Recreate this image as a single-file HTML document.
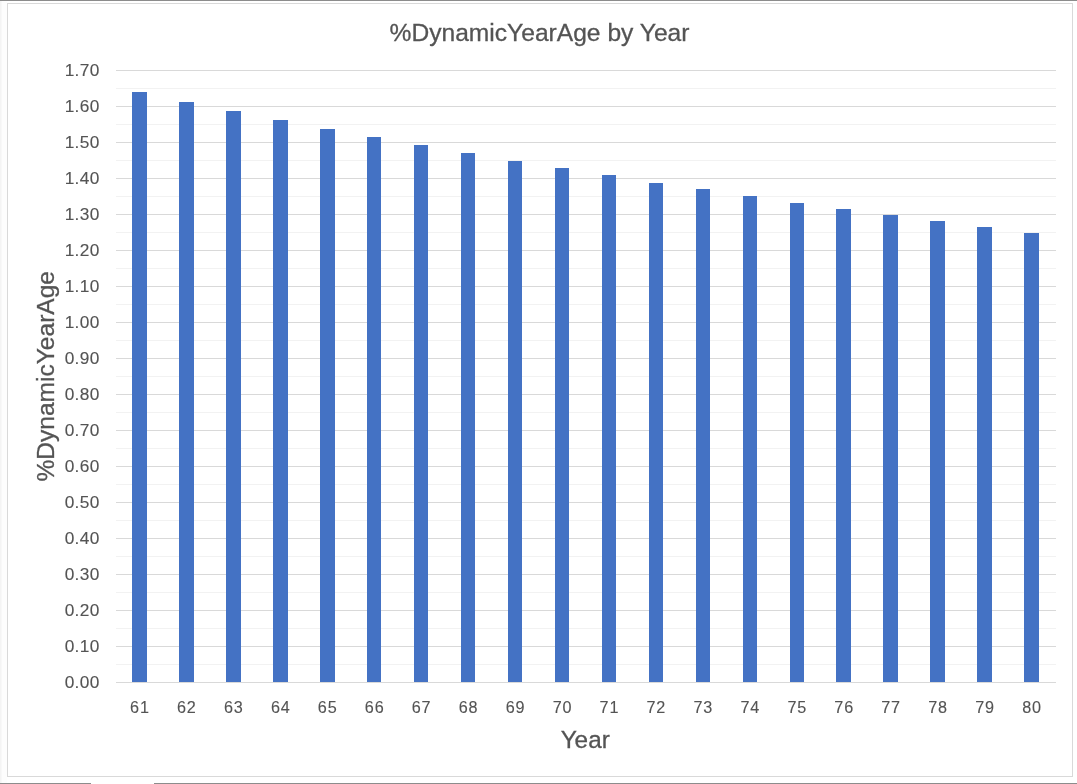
<!DOCTYPE html><html><head><meta charset="utf-8"><style>html,body{margin:0;padding:0;background:#fff;width:1077px;height:784px;overflow:hidden}svg{display:block;will-change:transform}text{font-family:"Liberation Sans",sans-serif;fill:#545454;stroke:#545454}</style></head><body>
<svg width="1077" height="784" viewBox="0 0 1077 784">
<rect x="0" y="0" width="1077" height="784" fill="#ffffff"/>
<rect x="0" y="0" width="1077" height="1" fill="#8c8c8c"/>
<rect x="0" y="783" width="91" height="1" fill="#8c8c8c"/>
<rect x="154" y="783" width="923" height="1" fill="#8c8c8c"/>
<rect x="0" y="1" width="7" height="782" fill="#fdfdfd"/><rect x="0" y="1" width="1" height="782" fill="#f4f4f4"/><rect x="1" y="1" width="1" height="782" fill="#f8f8f8"/>
<rect x="7.5" y="3.5" width="1065" height="773" fill="none" stroke="#d9d9d9" stroke-width="1"/>
<rect x="116" y="664" width="940" height="1" fill="#f2f2f2"/>
<rect x="116" y="628" width="940" height="1" fill="#f2f2f2"/>
<rect x="116" y="592" width="940" height="1" fill="#f2f2f2"/>
<rect x="116" y="556" width="940" height="1" fill="#f2f2f2"/>
<rect x="116" y="520" width="940" height="1" fill="#f2f2f2"/>
<rect x="116" y="484" width="940" height="1" fill="#f2f2f2"/>
<rect x="116" y="448" width="940" height="1" fill="#f2f2f2"/>
<rect x="116" y="412" width="940" height="1" fill="#f2f2f2"/>
<rect x="116" y="376" width="940" height="1" fill="#f2f2f2"/>
<rect x="116" y="340" width="940" height="1" fill="#f2f2f2"/>
<rect x="116" y="304" width="940" height="1" fill="#f2f2f2"/>
<rect x="116" y="268" width="940" height="1" fill="#f2f2f2"/>
<rect x="116" y="232" width="940" height="1" fill="#f2f2f2"/>
<rect x="116" y="196" width="940" height="1" fill="#f2f2f2"/>
<rect x="116" y="160" width="940" height="1" fill="#f2f2f2"/>
<rect x="116" y="124" width="940" height="1" fill="#f2f2f2"/>
<rect x="116" y="88" width="940" height="1" fill="#f2f2f2"/>
<rect x="116" y="682" width="940" height="1" fill="#d9d9d9"/>
<rect x="116" y="646" width="940" height="1" fill="#d9d9d9"/>
<rect x="116" y="610" width="940" height="1" fill="#d9d9d9"/>
<rect x="116" y="574" width="940" height="1" fill="#d9d9d9"/>
<rect x="116" y="538" width="940" height="1" fill="#d9d9d9"/>
<rect x="116" y="502" width="940" height="1" fill="#d9d9d9"/>
<rect x="116" y="466" width="940" height="1" fill="#d9d9d9"/>
<rect x="116" y="430" width="940" height="1" fill="#d9d9d9"/>
<rect x="116" y="394" width="940" height="1" fill="#d9d9d9"/>
<rect x="116" y="358" width="940" height="1" fill="#d9d9d9"/>
<rect x="116" y="322" width="940" height="1" fill="#d9d9d9"/>
<rect x="116" y="286" width="940" height="1" fill="#d9d9d9"/>
<rect x="116" y="250" width="940" height="1" fill="#d9d9d9"/>
<rect x="116" y="214" width="940" height="1" fill="#d9d9d9"/>
<rect x="116" y="178" width="940" height="1" fill="#d9d9d9"/>
<rect x="116" y="142" width="940" height="1" fill="#d9d9d9"/>
<rect x="116" y="106" width="940" height="1" fill="#d9d9d9"/>
<rect x="116" y="70" width="940" height="1" fill="#d9d9d9"/>
<rect x="132" y="92" width="15" height="590" fill="#4472c4"/>
<rect x="179" y="102" width="15" height="580" fill="#4472c4"/>
<rect x="226" y="111" width="15" height="571" fill="#4472c4"/>
<rect x="273" y="120" width="15" height="562" fill="#4472c4"/>
<rect x="320" y="129" width="15" height="553" fill="#4472c4"/>
<rect x="367" y="137" width="14" height="545" fill="#4472c4"/>
<rect x="414" y="145" width="14" height="537" fill="#4472c4"/>
<rect x="461" y="153" width="14" height="529" fill="#4472c4"/>
<rect x="508" y="161" width="14" height="521" fill="#4472c4"/>
<rect x="555" y="168" width="14" height="514" fill="#4472c4"/>
<rect x="602" y="175" width="14" height="507" fill="#4472c4"/>
<rect x="649" y="183" width="14" height="499" fill="#4472c4"/>
<rect x="696" y="189" width="14" height="493" fill="#4472c4"/>
<rect x="743" y="196" width="14" height="486" fill="#4472c4"/>
<rect x="790" y="203" width="14" height="479" fill="#4472c4"/>
<rect x="836" y="209" width="15" height="473" fill="#4472c4"/>
<rect x="883" y="215" width="15" height="467" fill="#4472c4"/>
<rect x="930" y="221" width="15" height="461" fill="#4472c4"/>
<rect x="977" y="227" width="15" height="455" fill="#4472c4"/>
<rect x="1024" y="233" width="15" height="449" fill="#4472c4"/>
<text transform="translate(99.6,688.03) scale(1.08,1)" font-size="16.0" stroke-width="0.12" letter-spacing="0.3" text-anchor="end">0.00</text>
<text transform="translate(99.6,652.03) scale(1.08,1)" font-size="16.0" stroke-width="0.12" letter-spacing="0.3" text-anchor="end">0.10</text>
<text transform="translate(99.6,616.03) scale(1.08,1)" font-size="16.0" stroke-width="0.12" letter-spacing="0.3" text-anchor="end">0.20</text>
<text transform="translate(99.6,580.03) scale(1.08,1)" font-size="16.0" stroke-width="0.12" letter-spacing="0.3" text-anchor="end">0.30</text>
<text transform="translate(99.6,544.03) scale(1.08,1)" font-size="16.0" stroke-width="0.12" letter-spacing="0.3" text-anchor="end">0.40</text>
<text transform="translate(99.6,508.03) scale(1.08,1)" font-size="16.0" stroke-width="0.12" letter-spacing="0.3" text-anchor="end">0.50</text>
<text transform="translate(99.6,472.03) scale(1.08,1)" font-size="16.0" stroke-width="0.12" letter-spacing="0.3" text-anchor="end">0.60</text>
<text transform="translate(99.6,436.03) scale(1.08,1)" font-size="16.0" stroke-width="0.12" letter-spacing="0.3" text-anchor="end">0.70</text>
<text transform="translate(99.6,400.03) scale(1.08,1)" font-size="16.0" stroke-width="0.12" letter-spacing="0.3" text-anchor="end">0.80</text>
<text transform="translate(99.6,364.03) scale(1.08,1)" font-size="16.0" stroke-width="0.12" letter-spacing="0.3" text-anchor="end">0.90</text>
<text transform="translate(99.6,328.03) scale(1.08,1)" font-size="16.0" stroke-width="0.12" letter-spacing="0.3" text-anchor="end">1.00</text>
<text transform="translate(99.6,292.03) scale(1.08,1)" font-size="16.0" stroke-width="0.12" letter-spacing="0.3" text-anchor="end">1.10</text>
<text transform="translate(99.6,256.03) scale(1.08,1)" font-size="16.0" stroke-width="0.12" letter-spacing="0.3" text-anchor="end">1.20</text>
<text transform="translate(99.6,220.03) scale(1.08,1)" font-size="16.0" stroke-width="0.12" letter-spacing="0.3" text-anchor="end">1.30</text>
<text transform="translate(99.6,184.03) scale(1.08,1)" font-size="16.0" stroke-width="0.12" letter-spacing="0.3" text-anchor="end">1.40</text>
<text transform="translate(99.6,148.03) scale(1.08,1)" font-size="16.0" stroke-width="0.12" letter-spacing="0.3" text-anchor="end">1.50</text>
<text transform="translate(99.6,112.03) scale(1.08,1)" font-size="16.0" stroke-width="0.12" letter-spacing="0.3" text-anchor="end">1.60</text>
<text transform="translate(99.6,76.03) scale(1.08,1)" font-size="16.0" stroke-width="0.12" letter-spacing="0.3" text-anchor="end">1.70</text>
<text transform="translate(139.88,713) scale(1.0,1)" font-size="16.2" stroke-width="0.12" letter-spacing="0.8" text-anchor="middle">61</text>
<text transform="translate(186.83,713) scale(1.0,1)" font-size="16.2" stroke-width="0.12" letter-spacing="0.8" text-anchor="middle">62</text>
<text transform="translate(233.78,713) scale(1.0,1)" font-size="16.2" stroke-width="0.12" letter-spacing="0.8" text-anchor="middle">63</text>
<text transform="translate(280.73,713) scale(1.0,1)" font-size="16.2" stroke-width="0.12" letter-spacing="0.8" text-anchor="middle">64</text>
<text transform="translate(327.67,713) scale(1.0,1)" font-size="16.2" stroke-width="0.12" letter-spacing="0.8" text-anchor="middle">65</text>
<text transform="translate(374.62,713) scale(1.0,1)" font-size="16.2" stroke-width="0.12" letter-spacing="0.8" text-anchor="middle">66</text>
<text transform="translate(421.57,713) scale(1.0,1)" font-size="16.2" stroke-width="0.12" letter-spacing="0.8" text-anchor="middle">67</text>
<text transform="translate(468.52,713) scale(1.0,1)" font-size="16.2" stroke-width="0.12" letter-spacing="0.8" text-anchor="middle">68</text>
<text transform="translate(515.48,713) scale(1.0,1)" font-size="16.2" stroke-width="0.12" letter-spacing="0.8" text-anchor="middle">69</text>
<text transform="translate(562.43,713) scale(1.0,1)" font-size="16.2" stroke-width="0.12" letter-spacing="0.8" text-anchor="middle">70</text>
<text transform="translate(609.38,713) scale(1.0,1)" font-size="16.2" stroke-width="0.12" letter-spacing="0.8" text-anchor="middle">71</text>
<text transform="translate(656.33,713) scale(1.0,1)" font-size="16.2" stroke-width="0.12" letter-spacing="0.8" text-anchor="middle">72</text>
<text transform="translate(703.27,713) scale(1.0,1)" font-size="16.2" stroke-width="0.12" letter-spacing="0.8" text-anchor="middle">73</text>
<text transform="translate(750.23,713) scale(1.0,1)" font-size="16.2" stroke-width="0.12" letter-spacing="0.8" text-anchor="middle">74</text>
<text transform="translate(797.18,713) scale(1.0,1)" font-size="16.2" stroke-width="0.12" letter-spacing="0.8" text-anchor="middle">75</text>
<text transform="translate(844.12,713) scale(1.0,1)" font-size="16.2" stroke-width="0.12" letter-spacing="0.8" text-anchor="middle">76</text>
<text transform="translate(891.08,713) scale(1.0,1)" font-size="16.2" stroke-width="0.12" letter-spacing="0.8" text-anchor="middle">77</text>
<text transform="translate(938.02,713) scale(1.0,1)" font-size="16.2" stroke-width="0.12" letter-spacing="0.8" text-anchor="middle">78</text>
<text transform="translate(984.98,713) scale(1.0,1)" font-size="16.2" stroke-width="0.12" letter-spacing="0.8" text-anchor="middle">79</text>
<text transform="translate(1031.93,713) scale(1.0,1)" font-size="16.2" stroke-width="0.12" letter-spacing="0.8" text-anchor="middle">80</text>
<text x="539.5" y="41.2" font-size="24.6" stroke-width="0.3" letter-spacing="0.0" text-anchor="middle">%DynamicYearAge by Year</text>
<text x="585.2" y="748.4" font-size="24.3" stroke-width="0.3" text-anchor="middle">Year</text>
<text transform="translate(53.7,376.3) rotate(-90)" x="0" y="0" font-size="24.55" stroke-width="0.3" letter-spacing="0.0" text-anchor="middle">%DynamicYearAge</text>
</svg></body></html>
